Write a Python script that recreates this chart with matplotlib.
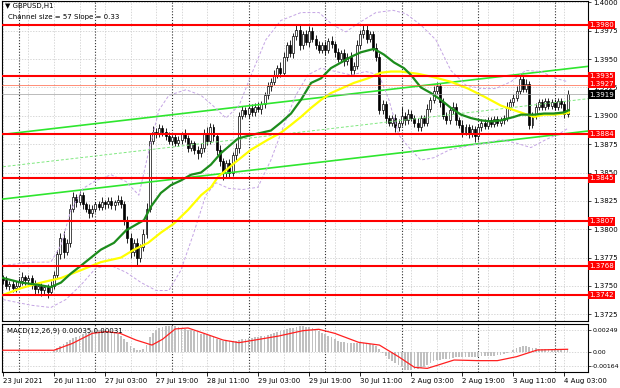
import numpy as np
import matplotlib
matplotlib.use('Agg')
import matplotlib.pyplot as plt
import matplotlib.transforms as mtransforms

plt.rcParams['font.family'] = ['DejaVu Sans']

base = 1.3700
pip = 0.0001

# candle closes in pips above 1.3700, one per H1 bar (23 Jul 19:00 .. 4 Aug 04:00)
first_open = 57
closes = [
    55, 50, 52, 48, 50, 54, 58, 55, 57, 51,
    47, 50, 46, 49, 45, 50, 60, 78, 92, 80,
    88, 118, 128, 124, 130, 122, 118, 114, 118, 122,
    120, 124, 122, 125, 121, 124, 126, 122, 108, 92,
    80, 88, 75, 84, 96, 118, 178, 186, 184, 189,
    186, 182, 178, 181, 176, 179, 184, 180, 172, 176,
    170, 167, 172, 185, 178, 190, 182, 170, 160, 150,
    158, 150, 165, 172, 200, 205, 202, 207, 203, 208,
    206, 210, 218, 226, 230, 236, 242, 238, 252, 262,
    255, 270, 276, 262, 272, 265, 275, 268, 262, 258,
    262, 258, 266, 263, 256, 250, 255, 248, 252, 240,
    244, 262, 272, 276, 268, 272, 260, 252, 205, 210,
    198, 194, 198, 190, 194, 200, 196, 202, 198, 194,
    190, 198, 194, 206, 214, 222, 226, 212, 200, 196,
    205, 208, 196, 192, 186, 190, 184, 188, 182, 190,
    194, 191, 196, 193, 197, 194, 196, 198, 208, 212,
    216, 222, 232, 224, 228, 192, 200, 208, 212, 208,
    213, 209, 212, 208, 213, 210, 202, 219,
]
# wick length above / below the body, pips
hi_ext = [
    3, 4, 2, 3, 4, 3, 4, 2, 3, 3,
    4, 2, 3, 2, 3, 4, 3, 4, 5, 6,
    3, 4, 5, 3, 4, 3, 2, 4, 3, 2,
    3, 4, 2, 3, 3, 2, 4, 3, 3, 4,
    5, 3, 4, 3, 4, 5, 6, 5, 3, 4,
    3, 3, 4, 2, 3, 3, 2, 4, 3, 3,
    2, 3, 4, 3, 5, 4, 3, 3, 4, 3,
    3, 4, 3, 4, 3, 4, 3, 2, 3, 3,
    4, 3, 3, 4, 3, 4, 3, 5, 4, 3,
    5, 3, 5, 4, 3, 4, 4, 3, 3, 4,
    3, 4, 3, 4, 3, 4, 3, 4, 3, 4,
    3, 5, 4, 5, 4, 3, 3, 4, 3, 4,
    3, 3, 3, 4, 3, 8, 3, 4, 3, 3,
    4, 3, 3, 4, 3, 4, 4, 3, 4, 3,
    3, 4, 3, 3, 4, 3, 3, 4, 3, 3,
    3, 3, 3, 3, 3, 3, 3, 3, 4, 3,
    3, 4, 4, 4, 4, 3, 3, 3, 3, 3,
    3, 3, 3, 3, 3, 3, 3, 4,
]
lo_ext = [
    3, 3, 4, 3, 3, 2, 3, 4, 3, 4,
    4, 3, 5, 3, 6, 3, 3, 3, 4, 5,
    3, 4, 3, 4, 3, 4, 3, 4, 3, 3,
    3, 3, 4, 3, 3, 4, 3, 3, 4, 4,
    5, 4, 7, 4, 3, 4, 3, 3, 4, 3,
    4, 3, 3, 4, 3, 3, 4, 3, 4, 3,
    4, 5, 3, 4, 4, 3, 4, 5, 4, 7,
    4, 5, 3, 4, 5, 3, 3, 4, 3, 3,
    3, 4, 3, 3, 4, 3, 3, 4, 3, 4,
    3, 4, 3, 4, 3, 3, 4, 3, 3, 3,
    3, 4, 3, 3, 4, 3, 3, 4, 3, 4,
    3, 3, 3, 3, 4, 3, 3, 4, 3, 3,
    4, 3, 3, 4, 3, 3, 4, 3, 3, 4,
    3, 3, 3, 3, 3, 3, 3, 4, 3, 3,
    3, 3, 4, 3, 5, 3, 4, 3, 5, 3,
    3, 3, 3, 3, 3, 3, 3, 3, 3, 3,
    3, 3, 3, 3, 3, 4, 3, 3, 3, 3,
    3, 3, 3, 3, 3, 3, 4, 3,
]

# moving averages (bar, pips)
ma_green_bar = [0, 5.6, 11, 15, 18.2, 21.3, 24.5, 27.6, 30.7, 34.8, 38.6, 42.3, 44.2, 46.4, 49.5,
                52.7, 55.8, 58.9, 62.1, 65.2, 68.3, 73.7, 77.7, 80.9, 84, 87.1, 90.3, 93.4, 96.6,
                99.7, 102.8, 106, 109.1, 112.2, 116.3, 119.4, 122.6, 125.7, 127.9, 131, 134.2,
                137.3, 140.4, 143.6, 146.7, 149.8, 153, 156.1, 160.2, 162.4, 166.5, 169.6, 172.7,
                175.9, 177.4]
ma_green = [57, 53, 51, 49, 53, 61, 68, 75, 82, 88, 99, 105, 108, 120, 132,
            139, 143, 148, 150, 157, 167, 180, 183, 185, 187, 194, 202, 214, 229,
            233, 242, 247, 252, 256, 259, 254, 247, 242, 236, 225, 220,
            214, 207, 201, 198, 196, 195, 196, 199, 201, 201, 202, 202,
            203, 205]
ma_yellow_bar = [0, 5.6, 12, 18.2, 24.5, 30.7, 37, 41.1, 45.5, 49.5, 53.6, 58, 62.1, 65.2, 67.4,
                 72.4, 77.7, 83.1, 87.1, 90.3, 93.4, 96.6, 99.7, 102.8, 106, 110, 114.4, 118.5,
                 121.6, 124.8, 130.1, 135.1, 140.4, 145.8, 150.8, 156.1, 160.2, 163.3, 166.5,
                 169.6, 172.7, 175.9, 177.4]
ma_yellow = [42, 48, 53, 57, 64, 71, 75, 82, 88, 97, 105, 117, 130, 137, 146,
             158, 170, 179, 185, 192, 199, 207, 214, 220, 224, 229, 233, 238,
             239, 239, 237, 234, 230, 224, 217, 209, 205, 202, 199,
             201, 201, 202, 203]

# bollinger envelope (bar, pips)
bb_up_bar = [0, 8.8, 15, 18.2, 21.3, 25.1, 29.2, 33.9, 38.6, 42.6, 45.8, 48.9, 52, 57.4, 62.1,
             65.8, 69.9, 74, 78.4, 82.4, 87.1, 93.4, 99.1, 103.4, 107.5, 112.2, 116.9, 122.3,
             126.3, 131, 135.7, 140.4, 145.1, 149.8, 154.5, 159.2, 163.9, 168.7, 173.3, 177.1]
bb_up = [68, 71, 71, 86, 117, 136, 143, 148, 142, 130, 170, 205, 218, 223, 218,
         209, 198, 209, 240, 267, 284, 291, 291, 280, 274, 283, 291, 293,
         290, 280, 267, 240, 227, 224, 224, 230, 240, 239, 233, 230]
bb_dn_bar = [0, 8.8, 15, 19.7, 24.5, 29.2, 33.9, 38.6, 43.3, 48, 52, 55.8, 59.6, 63.6, 66.8,
             70.8, 75.2, 79.9, 84, 88.1, 91.8, 95.6, 99.7, 104.4, 109.1, 113.8, 117.9, 121,
             124.1, 127.9, 131, 135, 140, 146.7, 151.4, 156.1, 160.8, 165.5, 170.2, 174.9, 177.1]
bb_dn = [38, 33, 31, 38, 51, 66, 68, 62, 53, 46, 46, 64, 95, 130, 141,
         136, 135, 137, 161, 192, 218, 236, 242, 239, 236, 239, 236, 214,
         183, 170, 161, 163, 170, 174, 176, 179, 176, 172, 179, 185, 189]

# regression channel
chan_mid0 = 155.1   # pips at bar 0
chan_slope = 0.327  # pips per bar
chan_size = 57

levels = [1.3980, 1.3935, 1.3884, 1.3845, 1.3807, 1.3768, 1.3742]
bid = 1.3919
ask = 1.3927

# MACD main (histogram) and signal, units of 0.00001
macd_hist = [
    5, 3, -2, 0, 4, 6, 2, -3, -5, 0,
    3, 2, -4, -6, -2, 5, 15, 40, 70, 95,
    115, 140, 160, 170, 180, 200, 215, 225, 235, 245,
    250, 248, 240, 232, 225, 215, 200, 180, 150, 110,
    70, 40, 25, 22, 30, 80, 170, 220, 255, 275,
    288, 295, 297, 295, 292, 285, 275, 265, 255, 245,
    235, 222, 210, 200, 190, 178, 165, 150, 138, 130,
    125, 122, 125, 130, 140, 148, 152, 155, 160, 165,
    172, 178, 185, 195, 205, 215, 225, 235, 245, 258,
    268, 278, 285, 290, 290, 288, 285, 275, 260, 240,
    220, 200, 185, 165, 145, 130, 118, 110, 105, 100,
    98, 100, 105, 100, 95, 90, 82, 70, 30, -15,
    -45, -75, -100, -125, -150, -175, -200, -205, -200, -195,
    -188, -180, -165, -145, -125, -105, -95, -88, -85, -80,
    -75, -65, -58, -55, -56, -58, -60, -58, -55, -52,
    -50, -48, -45, -42, -40, -37, -34, -28, -15, 5,
    22, 40, 55, 65, 70, 55, 45, 40, 38, 36,
    35, 34, 33, 33, 34, 33, 32, 35,
]
sig_bar = [0, 16, 21.8, 28, 32.4, 36.7, 41.7, 46.7, 50, 54, 58, 63, 69, 74, 79, 86.5, 94, 99,
           104, 111.5, 118, 124, 129, 133, 136.4, 141.4, 149, 155, 161, 167.5, 177]
sig_val = [20, 20, 98, 212, 231, 212, 136, 79, 144, 262, 273, 212, 136, 106, 136, 182, 242, 258,
           212, 110, 79, -53, -174, -186, -148, -91, -98, -98, -53, 23, 31]

day_sep = [5, 29, 53, 77, 101, 125, 149, 173]
date_bars = [0, 16, 32, 48, 64, 80, 96, 112, 128, 144, 160, 176]
date_labels = ['23 Jul 2021', '26 Jul 11:00', '27 Jul 03:00', '27 Jul 19:00', '28 Jul 11:00',
               '29 Jul 03:00', '29 Jul 19:00', '30 Jul 11:00', '2 Aug 03:00', '2 Aug 19:00',
               '3 Aug 11:00', '4 Aug 03:00']

c = base + np.array(closes) * pip
o = np.concatenate([[base + first_open * pip], c[:-1]])
h = np.maximum(o, c) + np.array(hi_ext) * pip
l = np.minimum(o, c) - np.array(lo_ext) * pip
bars = np.arange(len(c))
xmax = 183.4

fig = plt.figure(figsize=(6.2, 3.88), dpi=100)
ax = fig.add_axes([2 / 620, 67 / 388, 586 / 620, 320 / 388])
ax2 = fig.add_axes([2 / 620, 16 / 388, 586 / 620, 48 / 388])

for a in (ax, ax2):
    a.set_xlim(-0.3, xmax)
    for s in a.spines.values():
        s.set_color('black')
        s.set_linewidth(0.8)
    for b in range(0, 184, 8):
        a.axvline(b, color='#c8c8c8', lw=0.5, ls=(0, (2, 2)), zorder=0)
    for b in day_sep:
        a.axvline(b, color='#303030', lw=0.8, ls=(0, (1, 1.6)), zorder=1)

ax.set_ylim(1.37191, 1.40012)
ax.set_xticks([])
yt = np.arange(1.3725, 1.40001, 0.0025)
ax.set_yticks(yt)
ax.set_yticklabels(['%.4f' % v for v in yt])
ax.yaxis.tick_right()
ax.tick_params(axis='y', labelsize=5, pad=2, length=2, width=0.5)
for v in yt:
    ax.axhline(v, color='#c8c8c8', lw=0.5, ls=(0, (2, 2)), zorder=0)

# candles
up = c >= o
body = np.maximum(np.abs(c - o), 0.00003)
ax.vlines(bars, l, h, color='black', lw=0.6, zorder=3)
ax.bar(bars[up], body[up], bottom=o[up], width=0.62, color='white', edgecolor='black',
       linewidth=0.5, zorder=4)
ax.bar(bars[~up], body[~up], bottom=c[~up], width=0.62, color='black', edgecolor='black',
       linewidth=0.5, zorder=4)

# channel
cx = np.array([0, xmax])
mid = base + (chan_mid0 + chan_slope * cx) * pip
ax.plot(cx, mid + chan_size / 2 * pip, color='#2ee62e', lw=1.2, zorder=5)
ax.plot(cx, mid - chan_size / 2 * pip, color='#2ee62e', lw=1.2, zorder=5)
ax.plot(cx, mid, color='#7fe87f', lw=0.7, ls=(0, (3, 2)), zorder=5)

# bollinger + MAs
ax.plot(bb_up_bar, base + np.array(bb_up) * pip, color='#c4a4e4', lw=0.7, ls=(0, (3, 2)), zorder=5)
ax.plot(bb_dn_bar, base + np.array(bb_dn) * pip, color='#c4a4e4', lw=0.7, ls=(0, (3, 2)), zorder=5)
ax.plot(ma_yellow_bar, base + np.array(ma_yellow) * pip, color='#ffff00', lw=1.6, zorder=6)
ax.plot(ma_green_bar, base + np.array(ma_green) * pip, color='#1c8c1c', lw=1.6, zorder=6)

# support / resistance levels
tr = mtransforms.blended_transform_factory(ax.transAxes, ax.transData)
for lv in levels:
    ax.axhline(lv, color='#ff0000', lw=1.5, zorder=7)
    ax.text(1.002, lv, '%.4f' % lv, transform=tr, ha='left', va='center', fontsize=5,
            color='white', clip_on=False, zorder=10,
            bbox=dict(boxstyle='square,pad=0.2', fc='#ff0000', ec='none'))
ax.axhline(ask, color='#ff6040', lw=0.5, zorder=7)
ax.axhline(bid, color='#a0a0a0', lw=0.5, zorder=7)
ax.text(1.002, ask + 0.00012, '%.4f' % ask, transform=tr, ha='left', va='center', fontsize=5,
        color='white', clip_on=False, zorder=10,
        bbox=dict(boxstyle='square,pad=0.2', fc='#ff0000', ec='none'))
ax.text(1.002, bid - 0.00004, '%.4f' % bid, transform=tr, ha='left', va='center', fontsize=5,
        color='white', clip_on=False, zorder=11,
        bbox=dict(boxstyle='square,pad=0.2', fc='black', ec='none'))

# MACD window
ax2.set_ylim(-0.00227, 0.00318)
ax2.bar(bars, np.array(macd_hist) * 1e-5, width=0.55, color='#c0c0c0', zorder=2)
ax2.plot(sig_bar, np.array(sig_val) * 1e-5, color='#ff2020', lw=0.9, zorder=3)
for v in (0.00249, 0.0, -0.00164):
    ax2.axhline(v, color='#c8c8c8', lw=0.5, ls=(0, (2, 2)), zorder=0)
ax2.yaxis.tick_right()
ax2.set_yticks([0.00249, 0.0, -0.00164])
ax2.set_yticklabels(['0.00249', '0.00', '-0.00164'])
ax2.tick_params(axis='y', labelsize=4.5, pad=1, length=2, width=0.5)
ax2.set_xticks(date_bars)
ax2.set_xticklabels(date_labels, ha='left')
ax2.tick_params(axis='x', labelsize=5, pad=1.5, length=3, width=0.6)
ax2.text(0.008, 0.86, 'MACD(12,26,9) 0.00035 0.00031', transform=ax2.transAxes,
         fontsize=5, va='center', ha='left', color='black')

fig.text(5 / 620, 1 - 6 / 388, '\u25bc GBPUSD,H1', fontsize=5, va='center', ha='left')
fig.text(8 / 620, 1 - 17 / 388, 'Channel size = 57 Slope = 0.33', fontsize=5, va='center', ha='left')

fig.savefig('out.png', dpi=100)
